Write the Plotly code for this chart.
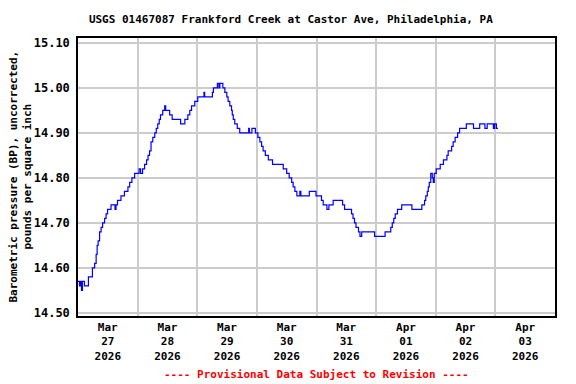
import pandas as pd
import plotly.graph_objects as go

# Hours since 2026-03-27 00:00 and barometric pressure (psi)
hours = [0.0, 0.6, 1.0, 1.4, 1.8, 2.6, 3.8, 4.2, 5.0, 5.8, 6.7, 7.3, 7.7, 8.1, 8.7, 9.3, 9.9,
         10.7, 11.3, 11.9, 13.3, 14.9, 15.3, 15.9, 16.7, 17.3, 17.9, 18.7, 19.5, 20.1, 20.8,
         21.7, 22.8, 24.6, 25.2, 26.0, 26.8, 27.6, 28.2, 28.8, 29.4, 30.1, 30.9, 31.5, 32.1,
         32.7, 33.2, 34.1, 34.9, 35.3, 36.3, 36.9, 37.9, 40.9, 41.3, 42.6, 43.0, 44.2, 45.0,
         45.7, 47.0, 48.2, 50.2, 50.7, 51.0, 53.8, 54.1, 54.5, 55.7, 56.1, 56.7, 57.1, 57.9,
         58.3, 59.1, 59.9, 60.4, 61.1, 61.8, 62.1, 62.5, 63.1, 64.1, 65.1, 68.4, 68.7, 69.0,
         70.0, 71.0, 71.4, 72.4, 73.2, 73.9, 74.5, 75.4, 76.6, 78.3, 82.0, 82.6, 84.0, 85.0,
         86.0, 86.6, 87.3, 88.1, 89.3, 89.7, 92.2, 93.1, 95.4, 95.8, 98.0, 98.7, 100.2, 101.0,
         102.7, 105.5, 106.5, 107.3, 109.3, 110.1, 110.7, 111.3, 111.9, 112.9, 113.5, 114.2,
         118.9, 119.4, 122.9, 123.6, 125.4, 125.9, 126.5, 127.1, 127.7, 128.6, 130.3, 134.0,
         134.4, 138.0, 138.4, 139.5, 140.0, 140.6, 141.0, 141.4, 142.0, 142.6, 143.0, 143.4,
         144.2, 145.8, 147.1, 148.5, 149.0, 149.8, 150.4, 151.0, 151.8, 152.8, 153.6, 156.3,
         158.8, 159.2, 161.3, 161.7, 163.3, 163.8, 164.7, 166.7, 167.2, 167.7, 168.4, 169.0]
pressure = [14.57, 14.56, 14.57, 14.55, 14.57, 14.56, 14.56, 14.58, 14.58, 14.60, 14.61, 14.63,
            14.65, 14.66, 14.68, 14.69, 14.70, 14.71, 14.72, 14.73, 14.74, 14.73, 14.74, 14.75,
            14.75, 14.76, 14.76, 14.77, 14.77, 14.78, 14.79, 14.80, 14.81, 14.82, 14.81, 14.82,
            14.83, 14.84, 14.85, 14.86, 14.88, 14.89, 14.90, 14.91, 14.92, 14.93, 14.94, 14.95,
            14.96, 14.95, 14.95, 14.94, 14.93, 14.93, 14.92, 14.92, 14.93, 14.94, 14.95, 14.96,
            14.97, 14.98, 14.98, 14.99, 14.98, 14.98, 14.99, 15.00, 15.00, 15.01, 15.00, 15.01,
            15.01, 15.00, 14.99, 14.98, 14.97, 14.96, 14.95, 14.94, 14.93, 14.92, 14.91, 14.90,
            14.90, 14.91, 14.90, 14.91, 14.91, 14.90, 14.89, 14.88, 14.87, 14.86, 14.85, 14.84,
            14.83, 14.83, 14.82, 14.81, 14.80, 14.79, 14.78, 14.77, 14.76, 14.77, 14.76, 14.76,
            14.77, 14.77, 14.76, 14.75, 14.74, 14.73, 14.74, 14.75, 14.75, 14.74, 14.73, 14.73,
            14.72, 14.71, 14.70, 14.69, 14.68, 14.67, 14.68, 14.68, 14.67, 14.67, 14.68, 14.68,
            14.69, 14.70, 14.71, 14.72, 14.73, 14.74, 14.74, 14.73, 14.73, 14.74, 14.75, 14.76,
            14.77, 14.78, 14.79, 14.81, 14.80, 14.79, 14.81, 14.82, 14.83, 14.84, 14.85, 14.86,
            14.86, 14.87, 14.88, 14.89, 14.90, 14.91, 14.92, 14.92, 14.91, 14.91, 14.92, 14.92,
            14.91, 14.92, 14.92, 14.91, 14.92, 14.91, 14.91]

day_labels = ["Mar<br>27<br>2026", "Mar<br>28<br>2026", "Mar<br>29<br>2026", "Mar<br>30<br>2026",
              "Mar<br>31<br>2026", "Apr<br>01<br>2026", "Apr<br>02<br>2026", "Apr<br>03<br>2026"]
y_ticks = [14.50, 14.60, 14.70, 14.80, 14.90, 15.00, 15.10]

start = pd.Timestamp("2026-03-27 00:00")
times = [start + pd.Timedelta(hours=h) for h in hours]
label_pos = [start + pd.Timedelta(hours=12 + 24 * i) for i in range(len(day_labels))]

FONT = "DejaVu Sans Mono"

fig = go.Figure()
fig.add_trace(go.Scatter(x=times, y=pressure, mode="lines", line_shape="hv",
                         line=dict(color="#0000ff", width=1.2), hoverinfo="skip"))

fig.update_layout(
    width=576, height=384,
    margin=dict(l=78, r=21, t=38, b=68, autoexpand=False),
    paper_bgcolor="white", plot_bgcolor="white",
    showlegend=False,
    font=dict(family=FONT, size=11, color="black", weight="bold"),
    title=dict(text="USGS 01467087 Frankford Creek at Castor Ave, Philadelphia, PA",
               xref="container", yref="container",
               x=0.505, xanchor="center", y=1 - 19 / 384, yanchor="middle",
               font=dict(family=FONT, size=11, color="black", weight="bold")),
)
fig.update_xaxes(
    range=[start, start + pd.Timedelta(days=8)],
    tickmode="array", tickvals=label_pos, ticktext=day_labels,
    ticks="", showgrid=False, automargin=False,
    minor=dict(dtick=86400000, tick0=start, showgrid=True, gridcolor="#cccccc", gridwidth=1.5, ticks=""),
    showline=True, linecolor="black", linewidth=1.5, mirror=True,
    tickfont=dict(family=FONT, size=11, weight="bold"),
)
fig.update_yaxes(
    range=[14.493, 15.111], automargin=False,
    tickmode="array", tickvals=y_ticks, tickformat=".2f",
    showgrid=True, gridcolor="#cccccc", gridwidth=1.5,
    ticks="outside", ticklen=4, tickcolor="white",
    showline=True, linecolor="black", linewidth=1.5, mirror=True, zeroline=False,
    tickfont=dict(family=FONT, size=12, weight="bold"),
)
fig.add_annotation(text="Barometric pressure (BP), uncorrected,<br>pounds per square inch",
                   xref="paper", yref="paper", x=-0.1226, y=0.5, xanchor="center", yanchor="middle",
                   textangle=-90, showarrow=False,
                   font=dict(family=FONT, size=11, color="black", weight="bold"))
fig.add_annotation(text="---- Provisional Data Subject to Revision ----",
                   xref="paper", yref="paper", x=0.5, y=-0.212, yanchor="middle",
                   showarrow=False, font=dict(family=FONT, size=11, color="red", weight="bold"))

fig.write_html("out.html", config={"displayModeBar": False},
               post_script="document.body.style.margin='0';")
